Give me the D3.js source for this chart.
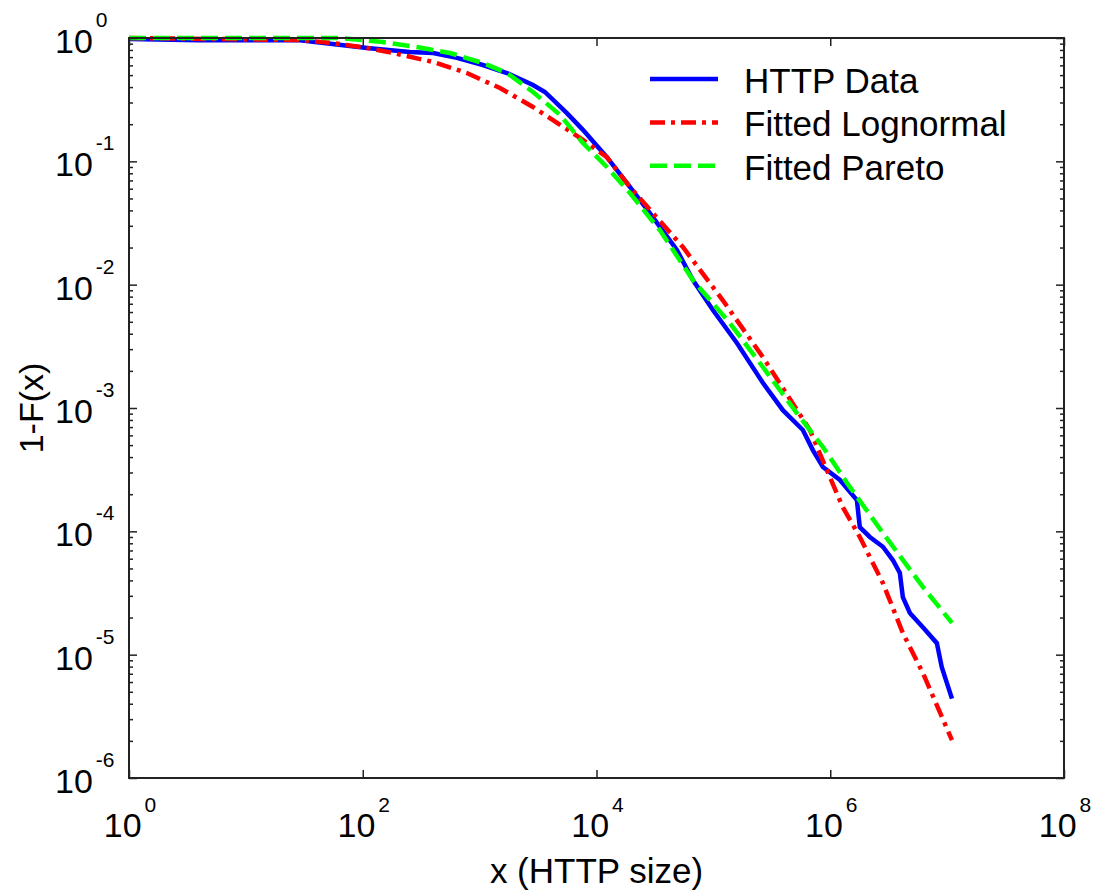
<!DOCTYPE html>
<html>
<head>
<meta charset="utf-8">
<script src="https://cdn.jsdelivr.net/npm/d3@7"></script>
<style>
  body { margin: 0; background: #fff; }
  text { font-family: "Liberation Sans", Arial, sans-serif; fill: #000; }
</style>
</head>
<body>
<div id="plot"></div>
<script>
const FRAME_HEIGHT = 893;
const FRAME_WIDTH = 1093;
const MARGIN = {left: 129, right: 29, top: 38, bottom: 115};

// HTTP data (empirical CCDF)
const httpX = [1, 4, 29, 109, 253, 400, 640, 1067, 1713, 2860, 3620, 5580, 7650, 12270, 19300,
  28600, 48700, 66800, 99000, 159000, 265000, 393000, 583000, 710000, 865000, 1.21e6,
  1.69e6, 1.79e6, 2.18e6, 2.82e6, 3.43e6, 3.94e6, 4.18e6, 4.8e6, 6.2e6, 8.17e6, 9.0e6, 1.1e7];
const httpY = [0.98, 0.96, 0.96, 0.83, 0.77, 0.756, 0.69, 0.604, 0.52, 0.416, 0.365, 0.246, 0.18, 0.108, 0.062,
  0.038, 0.0191, 0.0109, 0.00623, 0.00337, 0.0016, 0.00096, 0.000663, 0.000456, 0.000332, 0.000261,
  0.000179, 0.000108, 9.0e-5, 7.5e-5, 5.85e-5, 4.59e-5, 2.93e-5, 2.18e-5, 1.67e-5, 1.24e-5, 7.9e-6, 4.4e-6];

// fitted lognormal
const lognX = [1, 29, 55.6, 109, 181, 400, 778, 1493, 2860, 4240, 7650, 12270, 19300, 54800, 120000,
  265000, 669000, 935000, 1.28e6, 1.79e6, 2.82e6, 4.18e6, 6.2e6, 1.1e7];
const lognY = [1.0, 0.963, 0.911, 0.83, 0.756, 0.639, 0.52, 0.393, 0.276, 0.216, 0.149, 0.108, 0.062, 0.0202, 0.0075,
  0.00259, 0.000663, 0.000314, 0.000157, 9.0e-5, 3.81e-5, 1.5e-5, 7.1e-6, 2.03e-6];

// fitted pareto
const paretoX = [1, 63.8, 149, 291, 557, 1067, 1713, 2860, 4870, 7650, 12270, 19300, 34800, 66800, 138000,
  265000, 518000, 865000, 1.39e6, 2.82e6, 6.2e6, 1.1e7];
const paretoY = [1.0, 1.0, 0.928, 0.845, 0.756, 0.627, 0.52, 0.365, 0.238, 0.141, 0.09, 0.0554, 0.0277, 0.0109, 0.00489,
  0.00215, 0.00091, 0.000483, 0.000247, 9.7e-5, 3.54e-5, 1.81e-5];

const X_TICKS = [0, 2, 4, 6, 8]; // exponents
const Y_TICKS = [0, -1, -2, -3, -4, -5, -6];

const SERIES = [
  {name: "HTTP Data", xs: httpX, ys: httpY, color: "#0000ff", dash: null},
  {name: "Fitted Lognormal", xs: lognX, ys: lognY, color: "#ff0000", dash: "15,6,4,6"},
  {name: "Fitted Pareto", xs: paretoX, ys: paretoY, color: "#00ff00", dash: "17,7"}
];

const VIS_HEIGHT = FRAME_HEIGHT - MARGIN.top - MARGIN.bottom;
const VIS_WIDTH = FRAME_WIDTH - MARGIN.left - MARGIN.right;

const FRAME = d3.select("#plot")
  .append("svg")
    .attr("height", FRAME_HEIGHT)
    .attr("width", FRAME_WIDTH);

const X_SCALE = d3.scaleLog().domain([1, 1e8]).range([MARGIN.left, MARGIN.left + VIS_WIDTH]);
const Y_SCALE = d3.scaleLog().domain([1e-6, 1]).range([MARGIN.top + VIS_HEIGHT, MARGIN.top]);

FRAME.append("clipPath").attr("id", "clip")
  .append("rect")
    .attr("x", MARGIN.left).attr("y", MARGIN.top - 3)
    .attr("width", VIS_WIDTH).attr("height", VIS_HEIGHT + 3);

// curves (blue first, green on top)
const line = d3.line().x(d => X_SCALE(d[0])).y(d => Y_SCALE(d[1]));
FRAME.append("g").attr("clip-path", "url(#clip)")
  .selectAll("path")
  .data(SERIES)
  .enter()
  .append("path")
    .attr("d", s => line(s.xs.map((x, i) => [x, s.ys[i]])))
    .attr("fill", "none")
    .attr("stroke", s => s.color)
    .attr("stroke-width", 4.5)
    .attr("stroke-dasharray", s => s.dash);

// ticks, inward on all four sides
const majorY = Y_TICKS.map(e => Math.pow(10, e));
const minorY = [];
for (let e = -6; e < 0; e++) for (let m = 2; m <= 9; m++) minorY.push(m * Math.pow(10, e));
const majorX = X_TICKS.map(e => Math.pow(10, e));

const axisStyle = g => {
  g.select(".domain").remove();
  g.selectAll("line").attr("stroke", "#222").attr("stroke-width", 1.5);
  g.selectAll("text").remove();
};

FRAME.append("g").attr("transform", "translate(" + MARGIN.left + ",0)")
  .call(d3.axisLeft(Y_SCALE).tickValues(majorY).tickSize(-8)).call(axisStyle);
FRAME.append("g").attr("transform", "translate(" + MARGIN.left + ",0)")
  .call(d3.axisLeft(Y_SCALE).tickValues(minorY).tickSize(-4)).call(axisStyle);
FRAME.append("g").attr("transform", "translate(" + (MARGIN.left + VIS_WIDTH) + ",0)")
  .call(d3.axisRight(Y_SCALE).tickValues(majorY).tickSize(-8)).call(axisStyle);
FRAME.append("g").attr("transform", "translate(" + (MARGIN.left + VIS_WIDTH) + ",0)")
  .call(d3.axisRight(Y_SCALE).tickValues(minorY).tickSize(-4)).call(axisStyle);
FRAME.append("g").attr("transform", "translate(0," + (MARGIN.top + VIS_HEIGHT) + ")")
  .call(d3.axisBottom(X_SCALE).tickValues(majorX).tickSize(-8)).call(axisStyle);
FRAME.append("g").attr("transform", "translate(0," + MARGIN.top + ")")
  .call(d3.axisTop(X_SCALE).tickValues(majorX).tickSize(-8)).call(axisStyle);

// box
FRAME.append("rect")
  .attr("x", MARGIN.left).attr("y", MARGIN.top)
  .attr("width", VIS_WIDTH).attr("height", VIS_HEIGHT)
  .attr("fill", "none").attr("stroke", "#222").attr("stroke-width", 2);

// tick labels
const xl = FRAME.selectAll(".xlab").data(X_TICKS).enter()
  .append("text")
    .attr("class", "xlab")
    .attr("x", e => X_SCALE(Math.pow(10, e)) + 1)
    .attr("y", MARGIN.top + VIS_HEIGHT + 59)
    .attr("text-anchor", "middle")
    .attr("font-size", "34px");
xl.append("tspan").text("10");
xl.append("tspan").attr("dx", 3).attr("dy", -25).attr("font-size", "21px").text(e => e);

const yl = FRAME.selectAll(".ylab").data(Y_TICKS).enter()
  .append("text")
    .attr("class", "ylab")
    .attr("x", 55)
    .attr("y", e => Y_SCALE(Math.pow(10, e)) + 15)
    .attr("font-size", "34px");
yl.append("tspan").text("10");
yl.append("tspan").attr("dx", 3).attr("dy", -26).attr("font-size", "21px").text(e => e);

// axis titles
FRAME.append("text")
  .attr("x", MARGIN.left + VIS_WIDTH / 2)
  .attr("y", 883)
  .attr("text-anchor", "middle")
  .attr("font-size", "35px")
  .text("x (HTTP size)");

FRAME.append("text")
  .attr("transform", "translate(43," + (MARGIN.top + VIS_HEIGHT / 2) + ") rotate(-90)")
  .attr("text-anchor", "middle")
  .attr("font-size", "34px")
  .text("1-F(x)");

// legend
const legend = FRAME.selectAll(".legend").data(SERIES).enter()
  .append("g")
    .attr("class", "legend")
    .attr("transform", (s, i) => "translate(650," + (79 + i * 43.4) + ")");
legend.append("line")
  .attr("x1", 0).attr("x2", 68).attr("y1", 0).attr("y2", 0)
  .attr("stroke", s => s.color)
  .attr("stroke-width", 4.5)
  .attr("stroke-dasharray", s => s.dash);
legend.append("text")
  .attr("x", 94).attr("y", 14)
  .attr("font-size", "35px")
  .text(s => s.name);
</script>
</body>
</html>
